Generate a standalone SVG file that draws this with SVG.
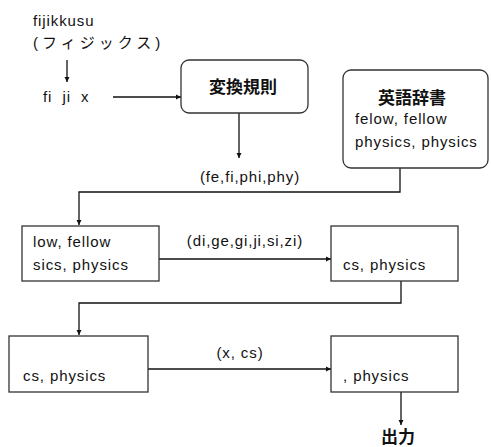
<svg xmlns="http://www.w3.org/2000/svg" width="491" height="447" viewBox="0 0 491 447">
  <style>
    .t { font-family: "Liberation Sans", "Noto Sans CJK JP", sans-serif; font-size: 15px; fill: #111; letter-spacing: 0.9px; }
    .jp { letter-spacing: 4px; }
    .b { font-family: "Noto Sans CJK JP", "Liberation Sans", sans-serif; font-size: 17px; font-weight: bold; fill: #111; }
    .box { fill: #fff; stroke: #333; stroke-width: 1.3; }
    .ln { fill: none; stroke: #111; stroke-width: 1.3; }
  </style>
  <defs>
    <marker id="ah" markerWidth="6" markerHeight="6" refX="5" refY="3" orient="auto" markerUnits="userSpaceOnUse">
      <path d="M0,0.5 L5,3 L0,5.5 Z" fill="#111"/>
    </marker>
  </defs>
  <rect width="491" height="447" fill="#fff"/>

  <g id="connectors">
    <line class="ln" x1="67" y1="60" x2="67" y2="82" marker-end="url(#ah)"/>
    <line class="ln" x1="113" y1="97" x2="181" y2="97" marker-end="url(#ah)"/>
    <line class="ln" x1="239" y1="113" x2="239" y2="158" marker-end="url(#ah)"/>
    <polyline class="ln" points="400,168 400,192 79,192 79,225" marker-end="url(#ah)"/>
    <line class="ln" x1="159" y1="259" x2="331" y2="259" marker-end="url(#ah)"/>
    <polyline class="ln" points="401,281 401,303 79,303 79,335" marker-end="url(#ah)"/>
    <line class="ln" x1="148" y1="369" x2="331" y2="369" marker-end="url(#ah)"/>
    <line class="ln" x1="401" y1="392" x2="401" y2="425" marker-end="url(#ah)"/>
  </g>

  <g id="input">
    <text class="t" x="33" y="26">fijikkusu</text>
    <text class="t jp" x="33" y="48">(フィジックス)</text>
  </g>
  <g id="candidates">
    <text class="t" x="43" y="102" xml:space="preserve">fi  ji  x</text>
  </g>

  <g id="rules">
    <rect class="box" x="181" y="60" width="127" height="53" rx="8"/>
    <text class="b" x="243" y="93" text-anchor="middle">変換規則</text>
  </g>
  <g id="rule-label">
    <text class="t" x="250" y="182" text-anchor="middle">(fe,fi,phi,phy)</text>
  </g>

  <g id="dictionary">
    <rect class="box" x="343" y="70" width="145" height="98" rx="8"/>
    <text class="b" x="412" y="104" text-anchor="middle">英語辞書</text>
    <text class="t" x="355" y="124">felow, fellow</text>
    <text class="t" x="355" y="147">physics, physics</text>
  </g>

  <g id="step1">
    <rect class="box" x="22" y="226" width="137" height="55"/>
    <text class="t" x="33" y="247">low, fellow</text>
    <text class="t" x="33" y="270">sics, physics</text>
  </g>
  <g id="label1">
    <text class="t" x="245" y="246" text-anchor="middle">(di,ge,gi,ji,si,zi)</text>
  </g>

  <g id="step2">
    <rect class="box" x="331" y="226" width="127" height="55"/>
    <text class="t" x="343" y="270">cs, physics</text>
  </g>

  <g id="step3">
    <rect class="box" x="9" y="336" width="139" height="56"/>
    <text class="t" x="23" y="381">cs, physics</text>
  </g>
  <g id="label2">
    <text class="t" x="240" y="358" text-anchor="middle">(x, cs)</text>
  </g>

  <g id="step4">
    <rect class="box" x="331" y="336" width="127" height="56"/>
    <text class="t" x="343" y="381">, physics</text>
  </g>

  <g id="output">
    <text class="b" x="398" y="443" font-size="15" text-anchor="middle">出力</text>
  </g>
</svg>
